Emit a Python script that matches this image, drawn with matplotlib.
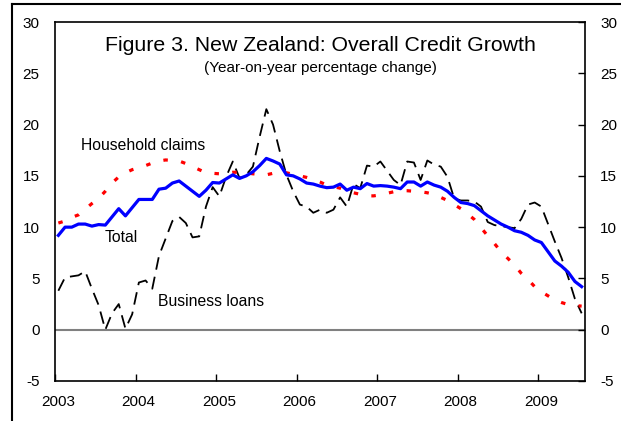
import matplotlib.pyplot as plt
from matplotlib.lines import Line2D
import matplotlib.transforms as mtransforms
import numpy as np

plt.rcParams['font.family'] = ['Liberation Sans', 'DejaVu Sans']
plt.rcParams['axes.unicode_minus'] = False

# monthly data, Jan 2003 - Jul 2009 (year-on-year % change)
total = [9.2, 10.0, 10.0, 10.3, 10.3, 10.1, 10.25, 10.2, 11.0, 11.8,
         11.1, 11.9, 12.7, 12.7, 12.7, 13.7, 13.8, 14.3, 14.5, 14.0,
         13.5, 13.0, 13.6, 14.35, 14.3, 14.7, 15.1, 14.75, 15.0, 15.4,
         16.0, 16.7, 16.45, 16.15, 15.1, 15.0, 14.7, 14.3, 14.2, 14.0,
         13.85, 13.9, 14.2, 13.6, 13.9, 13.75, 14.25, 14.0, 14.05, 14.0,
         13.9, 13.75, 14.4, 14.4, 14.0, 14.4, 14.1, 13.9, 13.5, 12.9,
         12.4, 12.3, 12.1, 11.6, 11.1, 10.7, 10.3, 10.0, 9.65, 9.5,
         9.2, 8.75, 8.5, 7.6, 6.7, 6.2, 5.6, 4.7, 4.2]

household = [10.4, 10.6, 10.95, 11.2, 11.75, 12.3, 12.8, 13.5, 14.3, 14.9,
             15.3, 15.6, 15.8, 16.0, 16.25, 16.45, 16.55, 16.5, 16.45, 16.2,
             15.9, 15.6, 15.3, 15.25, 15.2, 15.25, 15.35, 15.35, 15.3, 15.2,
             15.15, 15.1, 15.25, 15.4, 15.3, 15.15, 15.0, 14.85, 14.65, 14.4,
             14.1, 13.95, 13.8, 13.55, 13.35, 13.2, 13.05, 13.05, 13.15, 13.3,
             13.45, 13.55, 13.55, 13.5, 13.45, 13.35, 13.2, 12.9, 12.6, 12.2,
             11.8, 11.3, 10.75, 9.95, 9.15, 8.4, 7.6, 6.95, 6.3, 5.5,
             4.9, 4.2, 3.7, 3.3, 2.9, 2.65, 2.45, 2.35, 2.3]

business = [3.8, 5.1, 5.2, 5.3, 5.7, 4.0, 2.4, 0.0, 1.6, 2.5,
            0.1, 1.5, 4.6, 4.8, 4.0, 7.2, 8.9, 10.6, 11.0, 10.4,
            9.0, 9.1, 12.0, 13.9, 13.0, 14.9, 16.4, 14.8, 15.1, 15.9,
            18.8, 21.5, 20.0, 17.4, 15.1, 13.5, 12.2, 12.0, 11.4, 11.7,
            11.4, 11.7, 12.9, 12.0, 14.2, 13.8, 16.0, 15.9, 16.4, 15.5,
            14.6, 14.1, 16.4, 16.3, 14.6, 16.5, 16.1, 15.9, 14.9, 12.8,
            12.6, 12.6, 12.5, 12.0, 10.5, 10.2, 10.1, 10.0, 9.9, 10.8,
            12.2, 12.4, 12.0, 10.3, 8.6, 7.0, 5.1, 3.0, 1.6]

years = ['2003', '2004', '2005', '2006', '2007', '2008', '2009']

x = np.arange(len(total)) + 0.5

fig = plt.figure(figsize=(6.21, 4.21), dpi=100)
ax = fig.add_axes([55/621, 40/421, 530/621, 359/421])

ax.axhline(0, color='#808080', lw=1.5, zorder=1)
ax.plot(x, business, color='black', lw=1.3, dashes=(7, 4), zorder=2)
ax.plot(x, household, color='red', lw=2.3, dashes=(1.4, 4.2), zorder=3)
ax.plot(x, total, color='blue', lw=2.3, zorder=4)

ax.set_xlim(0, 79)
ax.set_ylim(-5, 30)
ax.set_xticks(np.arange(len(years)) * 12)
ax.set_xticklabels(years)
ax.set_yticks(np.arange(-5, 31, 5))
ax.tick_params(axis='x', direction='in', length=5, width=1, labelsize=11, pad=10)
ax.tick_params(axis='y', direction='in', length=5, width=1, labelsize=11,
               left=False, right=True, labelleft=True, labelright=True, pad=11)
for s in ax.spines.values():
    s.set_linewidth(1.2)

# year labels sit a little right of the ticks
shift = mtransforms.ScaledTranslation(3/100, 0, fig.dpi_scale_trans)
for lbl in ax.get_xticklabels():
    lbl.set_transform(lbl.get_transform() + shift)

ax.text(0.5, 0.935, 'Figure 3. New Zealand: Overall Credit Growth',
        transform=ax.transAxes, ha='center', va='center', fontsize=15.3)
ax.text(0.5, 0.872, '(Year-on-year percentage change)',
        transform=ax.transAxes, ha='center', va='center', fontsize=11)

ax.text(143/621, 1 - 145/421, 'Household claims', transform=fig.transFigure,
        ha='center', va='center', fontsize=11.3)
ax.text(121.5/621, 1 - 237/421, 'Total', transform=fig.transFigure,
        ha='center', va='center', fontsize=11.3)
ax.text(211/621, 1 - 301/421, 'Business loans', transform=fig.transFigure,
        ha='center', va='center', fontsize=11.3)

# partial outer frame
fig.add_artist(Line2D([12/621, 12/621], [0, 1 - 4/421], color='black', lw=1.5,
                      transform=fig.transFigure))
fig.add_artist(Line2D([12/621, 1], [1 - 4/421, 1 - 4/421], color='black', lw=1.5,
                      transform=fig.transFigure))

fig.savefig('out.png', dpi=100)
